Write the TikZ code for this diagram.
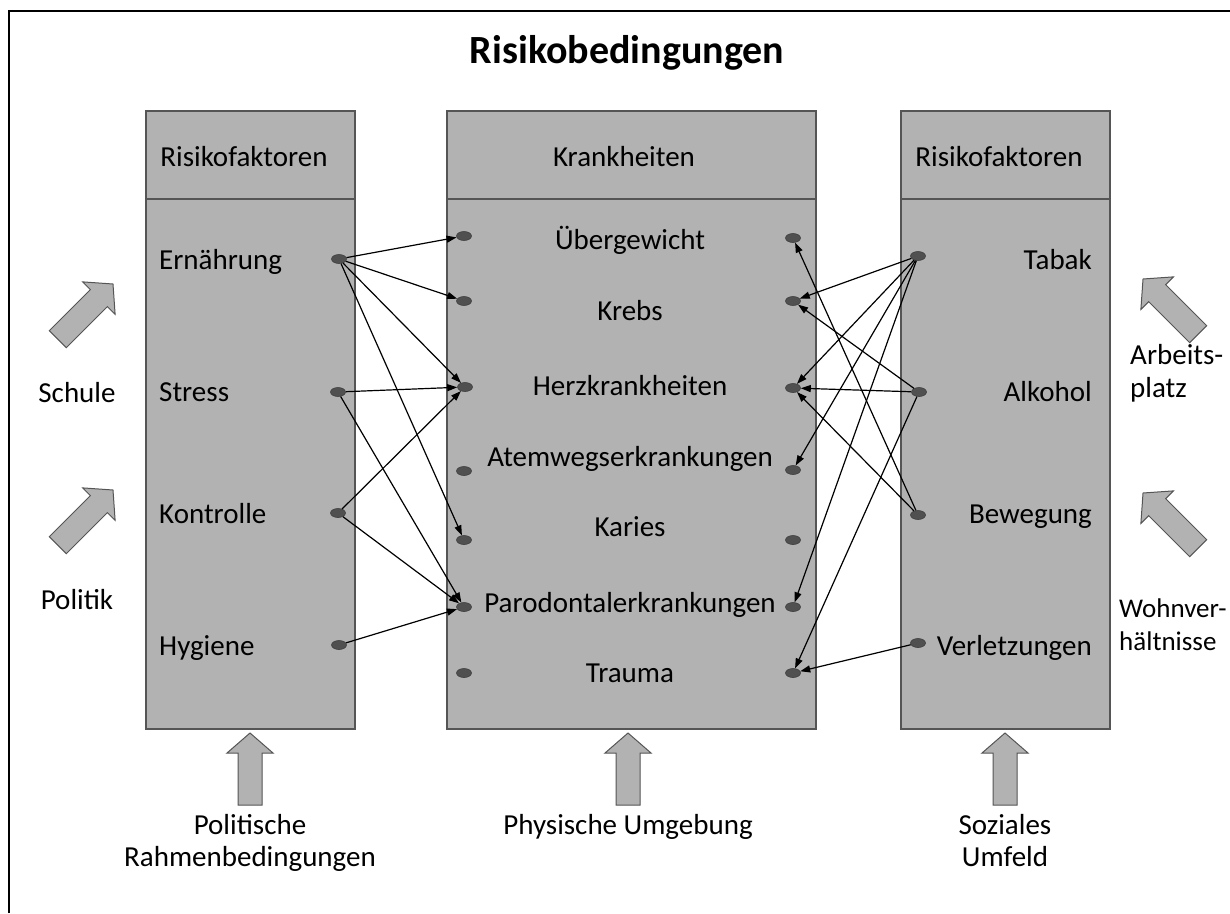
\documentclass[tikz,border=0pt]{standalone}
\usepackage{fontspec}
\setmainfont{Carlito}
\usetikzlibrary{arrows.meta,shapes.geometric}
\definecolor{boxgray}{RGB}{178,178,178}
\definecolor{edgegray}{RGB}{85,85,85}
\definecolor{dotgray}{RGB}{80,80,80}
\begin{document}
\begin{tikzpicture}[x=1pt,y=-1pt,
  panel/.style={draw=edgegray,fill=boxgray,line width=1.2pt},
  lbl/.style={font=\fontsize{29}{33}\selectfont,inner sep=0pt},
  small/.style={font=\fontsize{27}{33}\selectfont,inner sep=0pt},
  dot/.style={ellipse,draw=black!75,fill=dotgray,minimum width=15pt,minimum height=9pt,inner sep=0pt,line width=0.6pt},
  link/.style={-{Triangle[length=10pt,width=7pt]},line width=1.2pt,black},
  blockarrow/.style={draw=edgegray,fill=boxgray,line width=1pt,line join=miter},
  pics/fatarrow/.style={code={
    \draw[blockarrow] (0,0) -- (-20,-23) -- (-20,-12) -- (-#1,-12) -- (-#1,12) -- (-20,12) -- (-20,23) -- cycle;}}]
\useasboundingbox (0,0) rectangle (1230,913);
\clip (0,0) rectangle (1230,913);
% outer frame
\draw[line width=2.3pt] (9,913) -- (9,11) -- (1230,11);

% title
\node[font=\fontsize{40}{44}\selectfont\bfseries,inner sep=0pt,anchor=base] (title) at (627,63) {Risikobedingungen};

% panels
\draw[panel] (146,111) rectangle (355,199);
\draw[panel] (146,199) rectangle (355,729);
\draw[panel] (447,111) rectangle (816,199);
\draw[panel] (447,199) rectangle (816,729);
\draw[panel] (901,111) rectangle (1110,199);
\draw[panel] (901,199) rectangle (1110,729);

% headers
\node[lbl,anchor=base] (hl) at (244,166) {Risikofaktoren};
\node[lbl,anchor=base] (hc) at (624,166) {Krankheiten};
\node[lbl,anchor=base] (hr) at (999,166) {Risikofaktoren};

% left factors
\node[lbl,anchor=base west] (ern) at (159,269) {Ernährung};
\node[lbl,anchor=base west] (str) at (159,401) {Stress};
\node[lbl,anchor=base west] (kon) at (159,523) {Kontrolle};
\node[lbl,anchor=base west] (hyg) at (159,655) {Hygiene};

% diseases
\node[lbl,anchor=base] (ue) at (630,249) {Übergewicht};
\node[lbl,anchor=base] (kr) at (630,320) {Krebs};
\node[lbl,anchor=base] (hz) at (630,395) {Herzkrankheiten};
\node[lbl,anchor=base] (at) at (630,466) {Atemwegserkrankungen};
\node[lbl,anchor=base] (ka) at (630,536) {Karies};
\node[lbl,anchor=base] (pa) at (630,612) {Parodontalerkrankungen};
\node[lbl,anchor=base] (tr) at (630,682) {Trauma};

% right factors
\node[lbl,anchor=base east] (tab) at (1092,269) {Tabak};
\node[lbl,anchor=base east] (alk) at (1092,401) {Alkohol};
\node[lbl,anchor=base east] (bew) at (1092,523) {Bewegung};
\node[lbl,anchor=base east] (ver) at (1092,655) {Verletzungen};

% connection dots
\node[dot] (ern-d) at (339,259) {};
\node[dot] (str-d) at (338,392) {};
\node[dot] (kon-d) at (338,513) {};
\node[dot] (hyg-d) at (339,645) {};
\node[dot] (ue-l) at (464,236) {};
\node[dot] (kr-l) at (464,301) {};
\node[dot] (hz-l) at (465,387) {};
\node[dot] (at-l) at (464,471) {};
\node[dot] (ka-l) at (464,540) {};
\node[dot] (pa-l) at (464,607) {};
\node[dot] (tr-l) at (464,673) {};
\node[dot] (ue-r) at (793,238) {};
\node[dot] (kr-r) at (793,301) {};
\node[dot] (hz-r) at (793,388) {};
\node[dot] (at-r) at (793,470) {};
\node[dot] (ka-r) at (793,540) {};
\node[dot] (pa-r) at (793,607) {};
\node[dot] (tr-r) at (793,673) {};
\node[dot] (tab-d) at (918,256) {};
\node[dot] (alk-d) at (919,392) {};
\node[dot] (bew-d) at (918,515) {};
\node[dot] (ver-d) at (918,643) {};

% links from the left factors
\draw[link] (ern-d) -- (ue-l);
\draw[link] (ern-d) -- (kr-l);
\draw[link] (ern-d) -- (hz-l);
\draw[link] (ern-d) -- (ka-l);
\draw[link] (str-d) -- (hz-l);
\draw[link] (str-d) -- (pa-l);
\draw[link] (kon-d) -- (hz-l);
\draw[link] (kon-d) -- (pa-l);
\draw[link] (hyg-d) -- (pa-l);

% links from the right factors
\draw[link] (tab-d) -- (kr-r);
\draw[link] (tab-d) -- (hz-r);
\draw[link] (tab-d) -- (at-r);
\draw[link] (tab-d) -- (pa-r);
\draw[link] (alk-d) -- (kr-r);
\draw[link] (alk-d) -- (hz-r);
\draw[link] (alk-d) -- (tr-r);
\draw[link] (bew-d) -- (ue-r);
\draw[link] (bew-d) -- (hz-r);
\draw[link] (ver-d) -- (tr-r);

% influence arrows
\pic[rotate=45] at (113,284) {fatarrow=78};
\pic[rotate=45] at (113,490) {fatarrow=78};
\pic[rotate=135] at (1143,279) {fatarrow=78};
\pic[rotate=135] at (1143,493) {fatarrow=78};
\pic[rotate=90] at (250,733) {fatarrow=72};
\pic[rotate=90] at (628,733) {fatarrow=72};
\pic[rotate=90] at (1005,733) {fatarrow=72};

% influence labels
\node[lbl,anchor=base] (schule) at (77,402) {Schule};
\node[lbl,anchor=base] (politik) at (77,609) {Politik};
\node[lbl,anchor=base west] (arb1) at (1130,364) {Arbeits-};
\node[lbl,anchor=base west] (arb2) at (1130,397) {platz};
\node[small,anchor=base west] (wohn1) at (1119,617) {Wohnver-};
\node[small,anchor=base west] (wohn2) at (1119,650) {hältnisse};
\node[lbl,anchor=base] (pol1) at (250,834) {Politische};
\node[lbl,anchor=base] (pol2) at (250,866) {Rahmenbedingungen};
\node[lbl,anchor=base] (phys) at (628,834) {Physische Umgebung};
\node[lbl,anchor=base] (soz1) at (1005,834) {Soziales};
\node[lbl,anchor=base] (soz2) at (1005,866) {Umfeld};
\end{tikzpicture}
\end{document}
